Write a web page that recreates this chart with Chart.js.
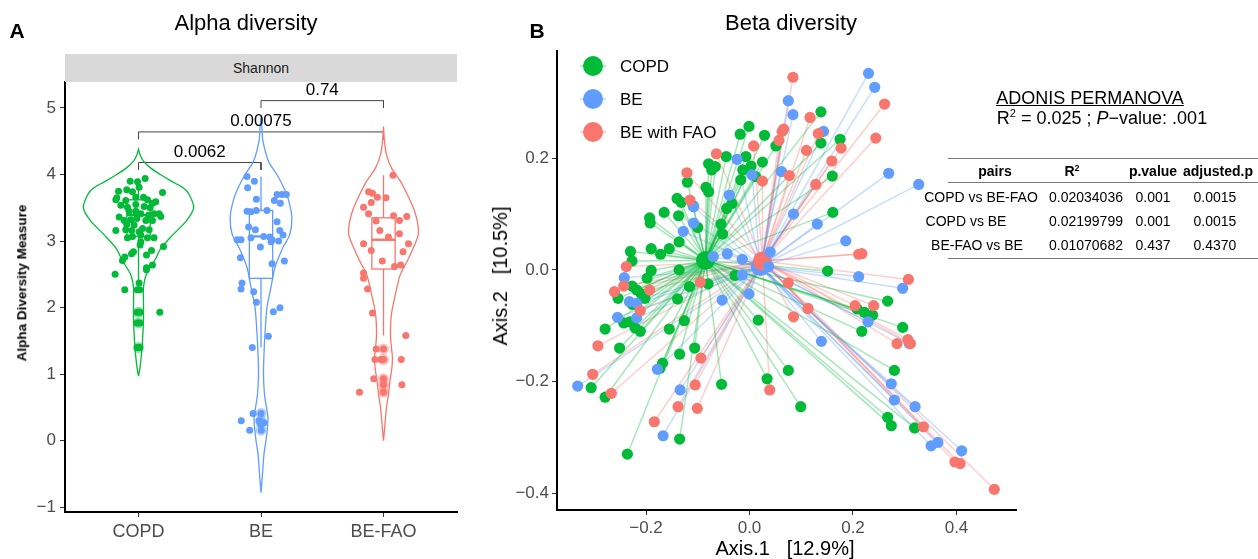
<!DOCTYPE html>
<html>
<head>
<meta charset="utf-8">
<script src="https://cdn.jsdelivr.net/npm/chart.js@4.4.1/dist/chart.umd.min.js"></script>
<style>
  body { margin: 0; background: #fff; font-family: 'Liberation Sans', Arial, sans-serif; }
  #wrap { position: relative; width: 1258px; height: 559px; overflow: hidden; background: #fff; }
  .t { position: absolute; white-space: pre; transform: translate(-50%, -50%); line-height: 1; }
  .rot { transform: translate(-50%, -50%) rotate(-90deg); }
  .rule { position: absolute; height: 1px; background: #777; }
  .dot { position: absolute; width: 20px; height: 20px; border-radius: 50%; }
  .key { position: absolute; width: 26px; height: 2px; }
</style>
</head>
<body>
<div id="wrap">
  <canvas id="alphaChart" width="470" height="559" style="position:absolute;left:0;top:0"></canvas>
  <canvas id="betaChart" width="778" height="559" style="position:absolute;left:480px;top:0"></canvas>

  <div class="t" style="left:17px;top:30px;font-size:21px;font-weight:bold">A</div>
  <div class="t" style="left:246px;top:23px;font-size:22px">Alpha diversity</div>
  <div style="position:absolute;left:65px;top:54px;width:392px;height:28px;background:#d9d9d9;text-align:center;line-height:28px;font-size:14px;color:#1a1a1a">Shannon</div>
  <div class="t rot" style="left:22px;top:283px;font-size:13.5px;font-weight:bold">Alpha Diversity Measure</div>

  <div class="t" style="left:537px;top:30px;font-size:21px;font-weight:bold">B</div>
  <div class="t" style="left:791px;top:23px;font-size:22px">Beta diversity</div>
  <div class="t rot" style="left:500px;top:276px;font-size:20px">Axis.2   [10.5%]</div>
  <div class="t" style="left:785px;top:548px;font-size:20px">Axis.1   [12.9%]</div>

  <div class="key" style="left:580px;top:65px;background:rgba(0,186,56,0.3)"></div>
  <div class="dot" style="left:583px;top:56px;background:#00BA38"></div>
  <div class="t" style="left:620px;top:66px;font-size:17px;transform:translate(0,-50%)">COPD</div>
  <div class="key" style="left:580px;top:98px;background:rgba(97,156,255,0.3)"></div>
  <div class="dot" style="left:583px;top:89px;background:#619CFF"></div>
  <div class="t" style="left:620px;top:99px;font-size:17px;transform:translate(0,-50%)">BE</div>
  <div class="key" style="left:580px;top:131px;background:rgba(248,118,109,0.3)"></div>
  <div class="dot" style="left:583px;top:122px;background:#F8766D"></div>
  <div class="t" style="left:620px;top:132px;font-size:17px;transform:translate(0,-50%)">BE with FAO</div>

  <div class="t" style="left:1090px;top:98px;font-size:18px;text-decoration:underline">ADONIS PERMANOVA</div>
  <div class="t" style="left:1102px;top:118px;font-size:18px">R<sup style="font-size:11px;vertical-align:7px;line-height:0">2</sup> = 0.025 ; <i>P</i>−value: .001</div>

  <div id="table"></div>
</div>

<script>
Chart.defaults.font.family = "'Liberation Sans', Arial, sans-serif";

const groups = ['COPD', 'BE', 'BE-FAO'];
const groupColors = ['#00BA38', '#619CFF', '#F8766D'];

// ---------- alpha diversity (Shannon) ----------
const alphaTicks = [-1, 0, 1, 2, 3, 4, 5];

const copdJitter = [0.054,-0.008,-0.068,-0.163,-0.096,-0.049,0.005,0.196,-0.177,-0.185,-0.104,-0.022,0.041,0.073,0.114,-0.144,-0.090,-0.022,0.046,0.095,0.141,-0.077,-0.022,0.019,0.082,0.127,0.168,0.182,-0.158,-0.117,-0.063,-0.014,0.060,0.114,-0.096,-0.036,-0.185,-0.104,-0.055,0.005,0.033,0.087,-0.090,-0.049,0.019,0.073,0.127,0.019,0.013,0.204,0.106,-0.041,-0.057,0.065,-0.112,-0.131,0.114,0.065,-0.191,0.065,-0.112,0.005,-0.01,0.01,0.174,-0.01,0.01,-0.01,0.01,-0.01,0.01];
const copdShannon = [3.94,3.89,3.90,3.75,3.77,3.74,3.81,3.73,3.65,3.62,3.61,3.66,3.66,3.62,3.57,3.54,3.51,3.55,3.52,3.50,3.59,3.45,3.45,3.41,3.39,3.41,3.41,3.37,3.36,3.31,3.32,3.34,3.31,3.31,3.25,3.24,3.16,3.17,3.16,3.14,3.19,3.17,3.05,3.07,3.09,3.05,3.05,2.99,2.94,2.92,2.86,2.84,2.81,2.79,2.76,2.71,2.64,2.60,2.50,2.57,2.27,2.37,2.27,2.27,1.93,1.93,1.93,1.77,1.77,1.40,1.40];

const beJitter = [-0.114,-0.054,-0.109,-0.038,0.131,0.172,0.207,0.109,0.158,-0.114,-0.082,-0.038,0.049,0.131,-0.101,-0.046,0.153,0.180,-0.195,-0.163,-0.082,0.022,0.071,0.090,-0.005,0.082,0.144,-0.168,0.191,0.090,-0.155,-0.163,-0.060,-0.038,0.101,0.155,0.060,-0.071,-0.065,0.0,-0.161,-0.016,0.024,0.0,-0.092,0.003];
const beShannon = [3.97,3.90,3.80,3.63,3.70,3.70,3.70,3.61,3.57,3.45,3.44,3.46,3.46,3.29,3.21,3.17,3.16,3.09,3.02,3.02,3.05,3.07,3.06,3.02,2.91,2.99,3.00,2.75,2.70,2.66,2.37,2.28,2.24,2.08,1.94,2.00,1.57,1.40,0.41,0.41,0.30,0.30,0.27,0.25,0.16,0.16];

const faoJitter = [0.077,-0.122,-0.09,-0.05,0.02,-0.163,-0.10,-0.122,-0.06,0.082,0.190,0.13,-0.03,0.04,0.13,-0.163,-0.10,0.204,0.16,-0.01,0.09,0.14,-0.163,-0.163,-0.13,-0.09,0.182,-0.06,0.0,-0.07,-0.02,0.0,0.145,-0.08,0.0,0.0,0.15,-0.196,0.0];
const faoShannon = [3.99,3.74,3.72,3.66,3.65,3.51,3.58,3.41,3.30,3.38,3.37,3.31,3.16,3.06,3.11,2.96,2.86,2.96,2.84,2.70,2.62,2.64,2.52,2.44,2.28,1.92,1.58,1.38,1.38,1.22,1.22,1.22,1.22,0.93,0.93,0.84,0.84,0.73,0.73];

// boxplot stats per group: lower whisker, Q1, median, Q3, upper whisker
const whiskerLow = [2.27, 1.40, 1.58];
const boxQ1 = [3.07, 2.44, 2.58];
const boxMedian = [3.39, 3.07, 3.02];
const boxQ3 = [3.62, 3.46, 3.35];
const whiskerHigh = [3.94, 3.97, 3.99];
const copdOutliers = [1.93, 1.77, 1.40];
const beOutliers = [0.41, 0.30, 0.27, 0.16];
const faoOutliers = [1.38, 1.22, 0.93, 0.84, 0.73];

// violin outlines: levels and scaled density (1 = widest violin)
const copdLevels = [0.97,1.1,1.3,1.5,1.8,2.1,2.3,2.5,2.7,2.9,3.1,3.3,3.5,3.7,3.8,3.9,4.0,4.1,4.2,4.3,4.38];
const copdDensity = [0,0.027,0.054,0.072,0.09,0.09,0.09,0.144,0.288,0.414,0.631,0.865,1,0.919,0.811,0.595,0.396,0.216,0.09,0.027,0];
const beLevels = [-0.78,-0.5,-0.2,0.0,0.2,0.35,0.5,0.7,1.0,1.3,1.6,2.0,2.3,2.6,2.9,3.1,3.35,3.6,3.8,4.0,4.2,4.5,4.7,4.88];
const beDensity = [0,0.027,0.054,0.09,0.117,0.126,0.099,0.063,0.045,0.054,0.072,0.108,0.18,0.252,0.396,0.523,0.559,0.505,0.414,0.288,0.135,0.036,0.018,0];
const faoLevels = [0.0,0.25,0.5,0.7,0.9,1.1,1.25,1.4,1.6,1.9,2.2,2.5,2.7,2.9,3.1,3.3,3.5,3.7,3.9,4.1,4.3,4.5,4.72];
const faoDensity = [0,0.027,0.054,0.09,0.117,0.153,0.162,0.144,0.126,0.144,0.216,0.306,0.432,0.541,0.631,0.613,0.541,0.432,0.306,0.144,0.054,0.018,0];

// significance brackets (wilcoxon p-values)
const bracketFrom = [0, 0, 1];
const bracketTo = [1, 2, 2];
const bracketY = [4.18, 4.64, 5.11];
const bracketLabels = ['0.0062', '0.00075', '0.74'];

// ---------- beta diversity (PCoA) ----------
const copdAxis1 = [-0.120,-0.140,-0.132,-0.109,-0.193,-0.192,-0.165,-0.137,-0.100,-0.136,-0.190,-0.155,-0.172,-0.230,-0.227,-0.190,-0.136,0.138,0.138,0.051,0.175,-0.001,-0.018,0.029,-0.045,-0.007,0.025,-0.079,-0.073,-0.066,0.003,-0.013,0.012,-0.017,0.160,-0.084,-0.079,-0.034,-0.044,-0.055,-0.052,0.161,0.151,-0.028,-0.198,-0.080,-0.116,-0.227,-0.218,-0.209,-0.202,-0.254,-0.226,-0.139,-0.243,-0.231,-0.221,-0.211,-0.279,-0.155,-0.126,-0.251,-0.135,-0.106,-0.168,-0.173,-0.306,-0.279,-0.135,-0.236,0.017,0.075,0.034,-0.054,0.099,0.267,0.208,0.222,0.238,0.217,0.296,0.280,0.267,0.274,0.319];
const copdAxis2 = [0.157,0.128,0.121,0.115,0.093,0.084,0.103,0.097,0.076,0.050,0.038,0.038,0.028,0.033,0.016,-0.001,0.000,0.283,0.227,0.222,0.234,0.257,0.243,0.241,0.203,0.203,0.193,0.190,0.179,0.185,0.186,0.179,0.167,0.161,0.168,0.148,0.140,0.119,0.110,0.082,0.064,0.103,-0.002,-0.010,-0.015,-0.025,-0.030,-0.029,-0.036,-0.043,-0.051,-0.051,-0.062,-0.052,-0.095,-0.093,-0.104,-0.110,-0.106,-0.106,-0.091,-0.140,-0.151,-0.140,-0.167,-0.176,-0.211,-0.228,-0.303,-0.330,-0.090,-0.180,-0.195,-0.205,-0.245,-0.056,-0.070,-0.076,-0.081,-0.110,-0.103,-0.180,-0.264,-0.279,-0.283];
const beAxis1 = [-0.108,-0.108,-0.128,-0.242,0.075,0.084,0.143,-0.024,0.005,0.062,-0.039,0.085,0.131,0.186,-0.070,-0.043,-0.014,0.040,0.037,0.230,0.242,0.269,0.327,0.211,-0.232,-0.218,-0.255,-0.218,-0.178,-0.332,-0.134,-0.167,-0.014,-0.053,-0.001,0.139,0.296,0.229,0.309,0.274,0.280,0.320,0.351,0.364,0.410];
const beAxis2 = [0.113,0.084,0.069,-0.014,0.303,0.278,0.248,0.198,0.170,0.176,0.134,0.100,0.082,0.052,0.024,0.029,0.019,0.032,0.006,0.352,0.327,0.173,0.153,-0.012,-0.057,-0.060,-0.085,-0.086,-0.178,-0.208,-0.215,-0.297,-0.009,-0.054,-0.043,-0.128,-0.033,-0.093,-0.132,-0.204,-0.233,-0.245,-0.315,-0.309,-0.324];
const faoAxis1 = [-0.121,-0.115,-0.238,0.084,0.117,0.066,0.063,0.133,0.057,0.177,0.110,0.008,-0.064,0.025,0.077,0.159,0.128,0.261,0.244,0.211,0.217,0.307,-0.095,-0.261,-0.243,-0.193,-0.211,-0.293,-0.094,-0.303,-0.267,-0.105,-0.138,-0.101,-0.184,0.075,0.113,0.085,0.039,0.240,0.204,0.285,0.306,0.311,0.336,0.397,0.407,0.473];
const faoAxis2 = [0.174,0.125,0.006,0.345,0.273,0.252,0.248,0.244,0.232,0.218,0.214,0.222,0.208,0.159,0.169,0.195,0.153,0.297,0.236,0.028,0.029,-0.017,-0.022,-0.039,-0.029,-0.036,-0.073,-0.136,-0.158,-0.187,-0.221,-0.206,-0.245,-0.248,-0.272,-0.023,-0.069,-0.084,-0.215,-0.064,-0.064,-0.132,-0.125,-0.132,-0.281,-0.344,-0.347,-0.393];
const centroidAxis1 = [-0.085, 0.021, 0.025];
const centroidAxis2 = [0.017, 0.006, 0.016];
const betaTicksX = [-0.2, 0, 0.2, 0.4];
const betaTicksY = [-0.4, -0.2, 0, 0.2];

// pairwise adonis table
const tableHeader = ['pairs', 'R2', 'p.value', 'adjusted.p'];
const pairNames = ['COPD vs BE-FAO', 'COPD vs BE', 'BE-FAO vs BE'];
const pairR2 = ['0.02034036', '0.02199799', '0.01070682'];
const pairP = ['0.001', '0.001', '0.437'];
const pairAdj = ['0.0015', '0.0015', '0.4370'];

function rgba(hex, a) {
  const n = parseInt(hex.slice(1), 16);
  return 'rgba(' + (n >> 16) + ',' + ((n >> 8) & 255) + ',' + (n & 255) + ',' + a + ')';
}
function minus(v) {
  return String(v).replace('-', '\u2212');
}

// ---------- alpha chart ----------
const jitters = [copdJitter, beJitter, faoJitter];
const shannons = [copdShannon, beShannon, faoShannon];
const outliers = [copdOutliers, beOutliers, faoOutliers];
const levels = [copdLevels, beLevels, faoLevels];
const densities = [copdDensity, beDensity, faoDensity];

const alphaSets = [];
groups.forEach((g, i) => {
  alphaSets.push({
    data: shannons[i].map((v, k) => ({ x: i + jitters[i][k], y: v })),
    pointRadius: 3.5, backgroundColor: groupColors[i], borderWidth: 0, order: 0
  });
  alphaSets.push({
    data: outliers[i].map(v => ({ x: i, y: v })),
    pointRadius: 5.5, backgroundColor: rgba(groupColors[i], 0.45), borderWidth: 0, order: 1
  });
  const lv = levels[i], d = densities[i];
  const right = lv.map((y, k) => ({ x: i + d[k] * 0.45, y: y }));
  const left = lv.map((y, k) => ({ x: i - d[k] * 0.45, y: y })).reverse();
  alphaSets.push({
    data: right.concat(left), showLine: true, pointRadius: 0, fill: false,
    borderColor: groupColors[i], borderWidth: 1.3, tension: 0.3, order: 2, boxIndex: i
  });
});
bracketY.forEach((y, b) => {
  const x1 = bracketFrom[b], x2 = bracketTo[b];
  alphaSets.push({
    data: [{ x: x1, y: y - 0.11 }, { x: x1, y: y }, { x: x2, y: y }, { x: x2, y: y - 0.11 }],
    showLine: true, pointRadius: 0, borderColor: '#444', borderWidth: 1, tension: 0, order: 3
  });
});

const boxPlugin = {
  id: 'boxes',
  afterDatasetDraw(chart, args) {
    const ds = chart.data.datasets[args.index];
    if (ds.boxIndex === undefined) return;
    const i = ds.boxIndex, xs = chart.scales.x, ys = chart.scales.y, ctx = chart.ctx;
    const cx = xs.getPixelForValue(i);
    const half = xs.getPixelForValue(i + 0.095) - cx;
    const q1 = ys.getPixelForValue(boxQ1[i]), q3 = ys.getPixelForValue(boxQ3[i]);
    const med = ys.getPixelForValue(boxMedian[i]);
    ctx.save();
    ctx.strokeStyle = groupColors[i];
    ctx.lineWidth = 1.3;
    ctx.beginPath();
    ctx.moveTo(cx, ys.getPixelForValue(whiskerHigh[i])); ctx.lineTo(cx, q3);
    ctx.moveTo(cx, q1); ctx.lineTo(cx, ys.getPixelForValue(whiskerLow[i]));
    ctx.stroke();
    ctx.fillStyle = '#fff';
    ctx.fillRect(cx - half, q3, half * 2, q1 - q3);
    ctx.strokeRect(cx - half, q3, half * 2, q1 - q3);
    ctx.lineWidth = 2.4;
    ctx.beginPath();
    ctx.moveTo(cx - half, med); ctx.lineTo(cx + half, med);
    ctx.stroke();
    ctx.restore();
  },
  afterDatasetsDraw(chart) {
    const xs = chart.scales.x, ys = chart.scales.y, ctx = chart.ctx;
    ctx.save();
    ctx.fillStyle = '#000';
    ctx.font = "17px 'Liberation Sans', Arial, sans-serif";
    ctx.textAlign = 'center';
    ctx.textBaseline = 'bottom';
    bracketLabels.forEach((lab, b) => {
      const x = (xs.getPixelForValue(bracketFrom[b]) + xs.getPixelForValue(bracketTo[b])) / 2;
      ctx.fillText(lab, x, ys.getPixelForValue(bracketY[b]) - 2);
    });
    ctx.restore();
  }
};

const axisBase = {
  grid: { display: true, drawOnChartArea: false, drawTicks: true, tickLength: 5, tickColor: '#333', tickWidth: 1 },
  border: { display: true, color: '#000', width: 2 }
};

new Chart(document.getElementById('alphaChart'), {
  type: 'scatter',
  data: { datasets: alphaSets },
  options: {
    responsive: false, animation: false, events: [],
    layout: { padding: { top: 82, right: 13, left: 0, bottom: 0 } },
    plugins: { legend: { display: false }, tooltip: { enabled: false } },
    scales: {
      x: Object.assign({}, axisBase, {
        type: 'linear', min: -0.6, max: 2.6,
        afterBuildTicks: s => { s.ticks = groups.map((g, i) => ({ value: i })); },
        afterFit: s => { s.height = 47; },
        ticks: { callback: v => groups[v], color: '#4d4d4d', font: { size: 18 }, padding: 4, maxRotation: 0 }
      }),
      y: Object.assign({}, axisBase, {
        type: 'linear', min: -1.07, max: 5.39,
        afterBuildTicks: s => { s.ticks = alphaTicks.map(v => ({ value: v })); },
        afterFit: s => { s.width = 65; },
        ticks: { callback: v => minus(v), color: '#4d4d4d', font: { size: 17 }, padding: 4 }
      })
    }
  },
  plugins: [boxPlugin]
});

// ---------- beta chart ----------
const axis1 = [copdAxis1, beAxis1, faoAxis1];
const axis2 = [copdAxis2, beAxis2, faoAxis2];
const betaSets = [];
groups.forEach((g, i) => {
  betaSets.push({
    data: axis1[i].map((v, k) => ({ x: v, y: axis2[i][k] })),
    pointRadius: 5.6, backgroundColor: groupColors[i], borderWidth: 0, order: 1.2 - i * 0.1
  });
  betaSets.push({
    data: [{ x: centroidAxis1[i], y: centroidAxis2[i] }],
    pointRadius: 9.5, backgroundColor: groupColors[i], borderWidth: 0, order: 2.2 - i * 0.1
  });
  axis1[i].forEach((v, k) => {
    betaSets.push({
      data: [{ x: centroidAxis1[i], y: centroidAxis2[i] }, { x: v, y: axis2[i][k] }],
      showLine: true, pointRadius: 0, borderColor: rgba(groupColors[i], 0.35), borderWidth: 1.5, order: 3
    });
  });
});

new Chart(document.getElementById('betaChart'), {
  type: 'scatter',
  data: { datasets: betaSets },
  options: {
    responsive: false, animation: false, events: [],
    layout: { padding: { top: 51, right: 242, left: 0, bottom: 0 } },
    plugins: { legend: { display: false }, tooltip: { enabled: false } },
    scales: {
      x: Object.assign({}, axisBase, {
        type: 'linear', min: -0.372, max: 0.515,
        afterBuildTicks: s => { s.ticks = betaTicksX.map(v => ({ value: v })); },
        afterFit: s => { s.height = 49; },
        ticks: { callback: v => minus(v.toFixed(1)), color: '#4d4d4d', font: { size: 17 }, padding: 3, maxRotation: 0 }
      }),
      y: Object.assign({}, axisBase, {
        type: 'linear', min: -0.43, max: 0.392,
        afterBuildTicks: s => { s.ticks = betaTicksY.map(v => ({ value: v })); },
        afterFit: s => { s.width = 77; },
        ticks: { callback: v => minus(v.toFixed(1)), color: '#4d4d4d', font: { size: 17 }, padding: 3 }
      })
    }
  }
});

// ---------- table ----------
const tbl = document.getElementById('table');
function cell(text, x, y, bold) {
  const d = document.createElement('div');
  d.className = 't';
  d.style.left = x + 'px';
  d.style.top = y + 'px';
  d.style.fontSize = '14px';
  if (bold) d.style.fontWeight = 'bold';
  d.innerHTML = text;
  tbl.appendChild(d);
}
function rule(y) {
  const r = document.createElement('div');
  r.className = 'rule';
  r.style.left = '948px';
  r.style.width = '310px';
  r.style.top = y + 'px';
  tbl.appendChild(r);
}
rule(158); rule(182); rule(258);
const headX = [995, 1072, 1153, 1218];
tableHeader.forEach((h, c) => {
  cell(h === 'R2' ? 'R<sup style="font-size:9px;vertical-align:5px;line-height:0">2</sup>' : h, headX[c], 171, true);
});
const rowY = [197, 221, 245];
const pairX = [981, 966, 977];
pairNames.forEach((p, r) => {
  cell(p, pairX[r], rowY[r]);
  cell(pairR2[r], 1086, rowY[r]);
  cell(pairP[r], 1153, rowY[r]);
  cell(pairAdj[r], 1215, rowY[r]);
});
</script>
</body>
</html>
